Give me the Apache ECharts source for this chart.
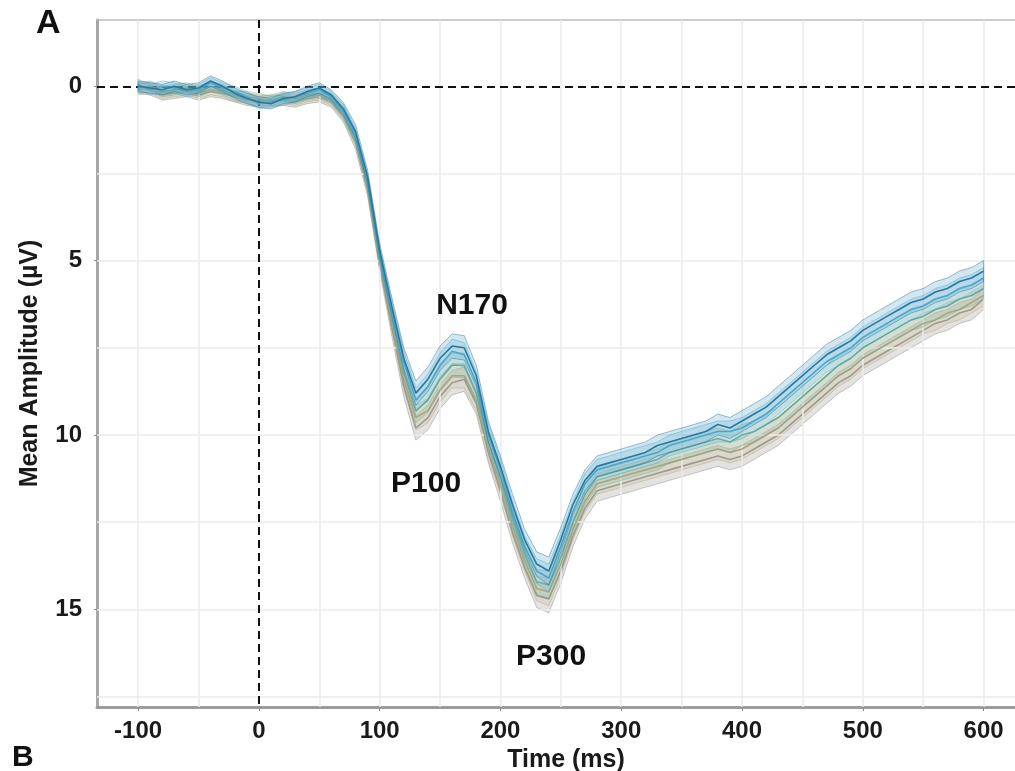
<!DOCTYPE html>
<html><head><meta charset="utf-8">
<script src="https://cdn.jsdelivr.net/npm/echarts@6/dist/echarts.min.js"></script>
<style>html,body{margin:0;padding:0;background:#fff}#c{width:1015px;height:771px}</style>
</head><body><div id="c"></div>
<script>
// Time points (ms)
const times = [-100,-90,-80,-70,-60,-50,-40,-30,-20,-10,0,10,20,30,40,50,60,70,80,90,100,110,120,130,140,150,160,170,180,190,200,210,220,230,240,250,260,270,280,290,300,310,320,330,340,350,360,370,380,390,400,410,420,430,440,450,460,470,480,490,500,510,520,530,540,550,560,570,580,590,600];
// Mean amplitude (µV) per condition
const condA = [0.0,0.05,0.1,0.0,0.1,0.05,-0.15,0.0,0.2,0.35, 0.45,0.5,0.35,0.3,0.15,0.05,0.25,0.65,1.3,2.6, 4.7,6.3,7.8,8.8,8.4,7.8,7.45,7.5,8.3,9.9, 10.9,12.0,13.0,13.7,13.9,13.0,12.0,11.3,10.9,10.8, 10.7,10.6,10.5,10.3,10.2,10.1,10.0,9.9,9.7,9.8, 9.6,9.4,9.2,8.9,8.6,8.3,8.0,7.7,7.5,7.3, 7.0,6.8,6.6,6.4,6.2,6.1,5.9,5.8,5.6,5.5, 5.3];
const condB = [-0.05,0.1,0.0,0.05,0.15,0.1,-0.1,0.05,0.15,0.3, 0.5,0.45,0.4,0.3,0.2,0.1,0.3,0.7,1.4,2.7, 4.8,6.4,7.9,9.0,8.6,8.0,7.6,7.7,8.5,10.0, 11.0,12.2,13.2,13.9,14.1,13.2,12.2,11.4,11.0,10.9, 10.8,10.7,10.6,10.5,10.3,10.2,10.1,10.0,9.9,9.9, 9.8,9.6,9.4,9.1,8.8,8.5,8.2,7.9,7.7,7.5, 7.2,7.0,6.8,6.6,6.4,6.3,6.1,6.0,5.8,5.7, 5.5];
const condC = [0.05,0.0,0.15,0.1,0.05,0.15,0.0,0.1,0.25,0.35, 0.4,0.4,0.3,0.35,0.25,0.2,0.35,0.75,1.45,2.75, 4.9,6.6,8.2,9.3,9.0,8.4,8.0,8.0,8.8,10.2, 11.2,12.4,13.4,14.2,14.3,13.5,12.5,11.7,11.2,11.1, 11.0,10.9,10.8,10.7,10.5,10.4,10.3,10.2,10.1,10.2, 10.0,9.9,9.7,9.5,9.2,8.9,8.6,8.3,8.0,7.8, 7.5,7.3,7.1,6.9,6.7,6.6,6.4,6.3,6.1,6.0, 5.8];
const condD = [0.1,0.05,0.2,0.15,0.1,0.2,0.1,0.15,0.3,0.3, 0.35,0.45,0.35,0.4,0.3,0.25,0.4,0.8,1.5,2.85, 5.0,6.7,8.4,9.5,9.3,8.7,8.3,8.3,9.0,10.4, 11.4,12.6,13.6,14.4,14.5,13.7,12.7,11.9,11.4,11.3, 11.2,11.1,11.0,10.9,10.8,10.7,10.6,10.5,10.4,10.5, 10.4,10.2,10.0,9.8,9.5,9.2,8.9,8.6,8.3,8.1, 7.8,7.6,7.4,7.2,7.0,6.8,6.7,6.5,6.4,6.2, 6.0];
const condE = [0.05,0.1,0.25,0.2,0.15,0.25,0.15,0.2,0.3,0.4, 0.45,0.4,0.4,0.45,0.35,0.3,0.45,0.85,1.6,2.95, 5.1,6.9,8.6,9.8,9.5,8.9,8.5,8.4,9.1,10.5, 11.6,12.8,13.8,14.6,14.7,13.9,12.9,12.1,11.6,11.5, 11.4,11.3,11.2,11.1,11.0,10.9,10.8,10.7,10.6,10.7, 10.6,10.4,10.2,10.0,9.7,9.4,9.1,8.8,8.5,8.3, 8.0,7.8,7.6,7.4,7.2,7.0,6.8,6.7,6.5,6.4, 6.1];
// Standard error half-width (µV)
const sem = [0.15,0.15,0.15,0.15,0.15,0.15,0.15,0.15,0.15,0.15, 0.15,0.15,0.15,0.15,0.15,0.15,0.15,0.18,0.2,0.2, 0.2,0.25,0.3,0.35,0.35,0.35,0.35,0.35,0.3,0.3, 0.3,0.3,0.3,0.35,0.4,0.35,0.3,0.3,0.3,0.3, 0.3,0.3,0.3,0.3,0.3,0.3,0.3,0.3,0.3,0.3, 0.3,0.3,0.3,0.3,0.3,0.3,0.3,0.3,0.3,0.3, 0.3,0.3,0.3,0.3,0.3,0.3,0.3,0.3,0.3,0.3, 0.3];
// Axis ticks and grid
const xTicks = [-100,0,100,200,300,400,500,600];
const yTicks = [0,5,10,15];
const xGrid = [-100,-50,50,100,150,200,250,300,350,400,450,500,550,600];
const yGrid = [2.5,5,7.5,10,12.5,15,17.5];
// Component annotations
const annotations = [
  {name:'N170', t:176.5, v:6.3},
  {name:'P100', t:138.4, v:11.4},
  {name:'P300', t:241.9, v:16.35}
];

const conds = [
  {vals:condE, line:'#8e8e88', fill:'rgba(150,150,145,0.28)', edge:'rgba(130,130,125,0.55)'},
  {vals:condD, line:'#b0a078', fill:'rgba(200,185,150,0.28)', edge:'rgba(176,160,120,0.55)'},
  {vals:condC, line:'#6fa58c', fill:'rgba(140,185,160,0.28)', edge:'rgba(111,165,140,0.55)'},
  {vals:condB, line:'#4aa8c8', fill:'rgba(120,195,220,0.28)', edge:'rgba(74,168,200,0.55)'},
  {vals:condA, line:'#2b77a0', fill:'rgba(80,160,200,0.25)', edge:'rgba(43,119,160,0.6)'}
];

const FONT = '"Liberation Sans", Arial, sans-serif';
const series = [];
// grid lines
series.push({
  type:'line', data:[[times[0], condA[0]]], showSymbol:false, lineStyle:{opacity:0}, z:1, silent:true,
  markLine:{silent:true, symbol:'none', label:{show:false}, animation:false,
    lineStyle:{type:'solid', color:'#ebebeb', width:1.5},
    data: xGrid.map(x=>({xAxis:x})).concat(yGrid.map(y=>({yAxis:y})))}
});
conds.forEach((c, k)=>{
  series.push({
    type:'custom', clip:true, silent:true, z:2+k*2,
    data:[[times[0], c.vals[0]]],
    renderItem:function(params, api){
      if (params.dataIndex !== 0) return;
      const up=[], lo=[];
      for (let i=0;i<times.length;i++){
        up.push(api.coord([times[i], c.vals[i]-sem[i]]));
        lo.push(api.coord([times[i], c.vals[i]+sem[i]]));
      }
      return {type:'polygon', shape:{points:up.concat(lo.reverse())},
        style:{fill:c.fill, stroke:c.edge, lineWidth:0.8}};
    }
  });
  series.push({
    type:'line', z:3+k*2, silent:true, showSymbol:false,
    data: times.map((t,i)=>[t, c.vals[i]]),
    lineStyle:{color:c.line, width:1.6},
    itemStyle:{color:c.line}
  });
});
// reference dashed lines
series.push({
  type:'line', data:[[times[0], condA[0]]], showSymbol:false, lineStyle:{opacity:0}, z:20, silent:true,
  markLine:{silent:true, symbol:'none', label:{show:false}, animation:false,
    lineStyle:{type:[8,5], color:'#111', width:2},
    data:[{yAxis:0},{xAxis:0}]}
});
// component labels
series.push({
  type:'scatter', z:21, silent:true, symbolSize:0, itemStyle:{color:'#111', opacity:1},
  data: annotations.map(a=>({name:a.name, value:[a.t, a.v]})),
  label:{show:true, position:'inside', formatter:'{b}', fontFamily:FONT, fontSize:30, fontWeight:'bold', color:'#111', opacity:1, textBorderWidth:0}
});

const chart = echarts.init(document.getElementById('c'), null, {renderer:'canvas'});
chart.setOption({
  animation:false,
  backgroundColor:'#fff',
  grid:{left:97, top:20, right:0, bottom:64, containLabel:false, outerBoundsMode:'none'},
  xAxis:[{
    type:'value', min:-134, max:626, position:'bottom',
    axisLine:{show:true, onZero:false, lineStyle:{color:'#9c9c9c', width:3}},
    axisTick:{show:true, customValues:xTicks, length:4, lineStyle:{color:'#888', width:1}},
    axisLabel:{customValues:xTicks, fontFamily:FONT, fontSize:24, fontWeight:'bold', color:'#1a1a1a', margin:12},
    splitLine:{show:false},
    name:'Time (ms)', nameLocation:'middle', nameGap:36,
    nameTextStyle:{fontFamily:FONT, fontSize:25, fontWeight:'bold', color:'#1a1a1a', padding:[0,0,0,20]}
  },{
    type:'value', min:-134, max:626, position:'top',
    axisLine:{show:true, onZero:false, lineStyle:{color:'#bbbbbb', width:1.5}},
    axisTick:{show:false}, axisLabel:{show:false}, splitLine:{show:false}
  }],
  yAxis:{
    type:'value', inverse:true, min:-1.9, max:17.8,
    axisLine:{show:true, onZero:false, lineStyle:{color:'#a6a6a6', width:3}},
    axisTick:{show:true, customValues:yTicks, length:3, lineStyle:{color:'#888', width:1}},
    axisLabel:{customValues:yTicks, fontFamily:FONT, fontSize:24, fontWeight:'bold', color:'#1a1a1a', margin:15},
    splitLine:{show:false},
    name:'Mean Amplitude (µV)', nameLocation:'middle', nameGap:54, nameRotate:90,
    nameTextStyle:{fontFamily:FONT, fontSize:25, fontWeight:'bold', color:'#1a1a1a'}
  },
  graphic:[
    {type:'text', left:36, top:7, style:{text:'A', fontFamily:FONT, fontSize:34, fontWeight:'bold', fill:'#111'}},
    {type:'text', left:12, top:743, style:{text:'B', fontFamily:FONT, fontSize:30, fontWeight:'bold', fill:'#111'}}
  ],
  series:series
});
</script>
</body></html>
